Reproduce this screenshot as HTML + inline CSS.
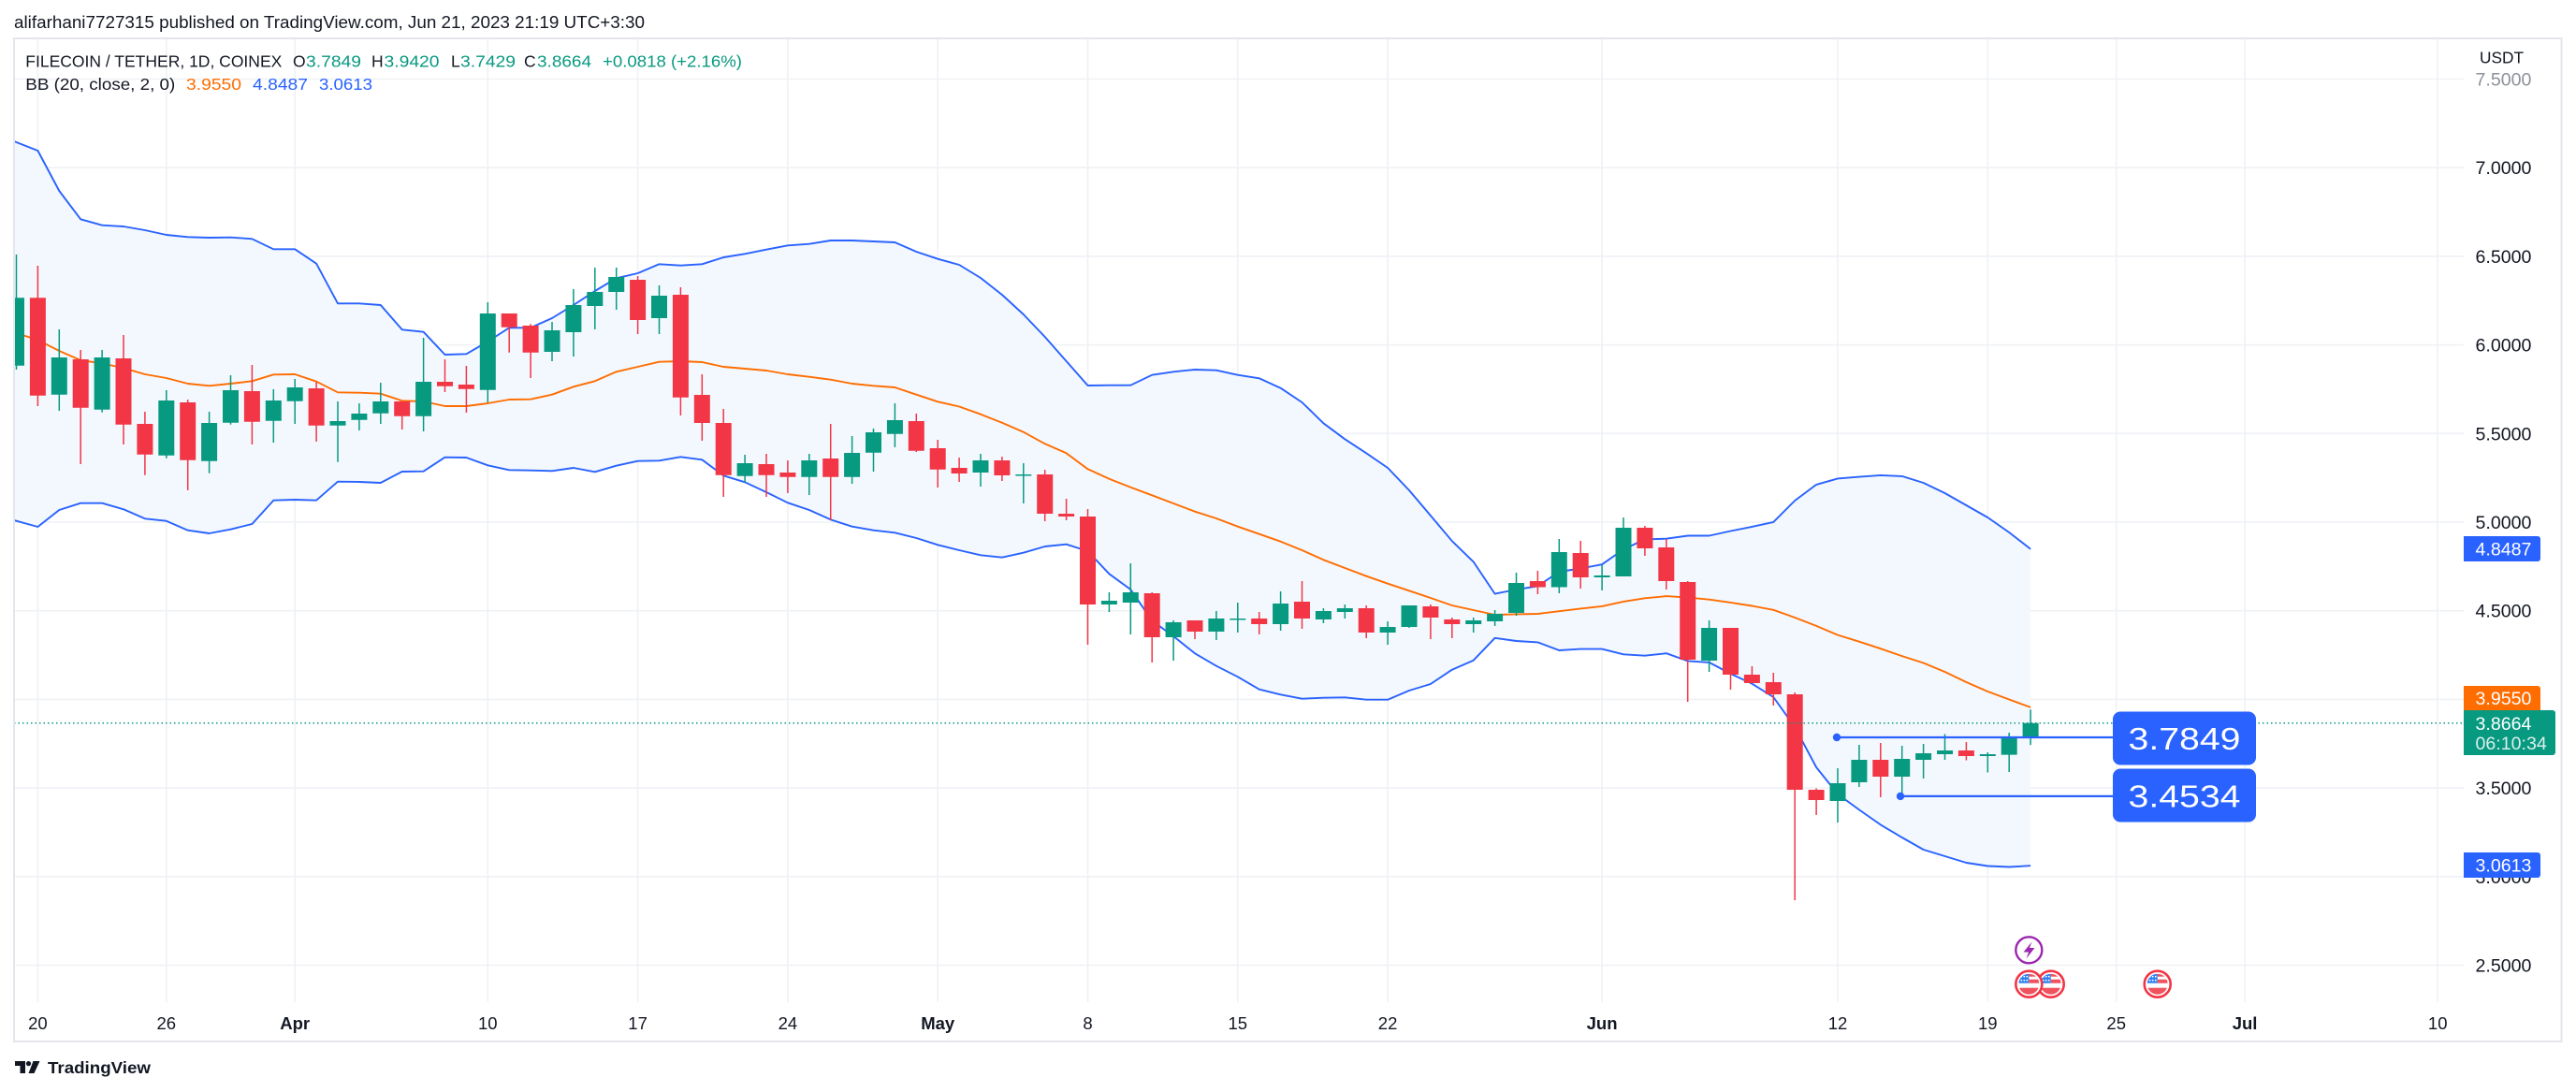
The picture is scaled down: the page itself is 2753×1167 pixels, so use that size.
<!DOCTYPE html>
<html><head><meta charset="utf-8"><style>
html,body{margin:0;padding:0;background:#fff;}
svg{display:block;font-family:"Liberation Sans",Arial,sans-serif;}
</style></head><body>
<svg width="2753" height="1167" viewBox="0 0 2753 1167" xmlns="http://www.w3.org/2000/svg">
<defs>
<clipPath id="pane"><rect x="16" y="42" width="2617" height="1029"/></clipPath>
<clipPath id="fc"><circle cx="0" cy="0" r="11"/></clipPath>
<g id="flag">
<circle cx="0" cy="0" r="14" fill="#fff" stroke="#f23645" stroke-width="2.6"/>
<g clip-path="url(#fc)">
<rect x="-12" y="-12" width="24" height="24" fill="#fff"/>
<rect x="0" y="-12" width="12" height="4" fill="#f0535d"/>
<rect x="0" y="-5" width="12" height="4" fill="#f0535d"/>
<rect x="-12" y="4" width="24" height="9" fill="#f0535d"/>
<rect x="-12" y="-12" width="12" height="11" fill="#2f7ff0"/>
<g fill="#fff"><circle cx="-8" cy="-8" r="0.9"/><circle cx="-5" cy="-8" r="0.9"/><circle cx="-2" cy="-8" r="0.9"/><circle cx="-8" cy="-4" r="0.9"/><circle cx="-5" cy="-4" r="0.9"/><circle cx="-2" cy="-4" r="0.9"/></g>
</g>
</g>
</defs>
<rect width="2753" height="1167" fill="#fff"/>

<!-- grid -->
<g stroke="#eff1f5" stroke-width="1.6">
<path d="M15 84.5H2633M15 179.2H2633M15 273.9H2633M15 368.6H2633M15 463.3H2633M15 558H2633M15 652.7H2633M15 747.4H2633M15 842.1H2633M15 936.8H2633M15 1031.5H2633"/>
<path d="M40.4 41V1071M177.8 41V1071M315.2 41V1071M521.3 41V1071M681.6 41V1071M841.9 41V1071M1002.2 41V1071M1162.5 41V1071M1322.8 41V1071M1483.1 41V1071M1712.1 41V1071M1964 41V1071M2124.3 41V1071M2261.7 41V1071M2399.1 41V1071M2605.2 41V1071"/>
</g>

<g clip-path="url(#pane)">
<!-- BB fill -->
<polygon fill="#f3f8fe" points="15,151 17.5,152 40.4,161 63.3,204 86.2,234.3 109.1,240.7 132,242 154.9,246 177.8,251 200.7,253.3 223.6,254 246.5,253.7 269.4,255.3 292.3,266.3 315.2,266.3 338.1,281.7 361,324.3 383.9,324.3 406.8,326 429.7,352.3 452.6,354.7 475.5,379 498.4,378.3 521.3,365 544.2,350.3 567.1,350.3 590,340 612.9,326 635.8,311 658.7,297.3 681.6,292 704.5,282.3 727.4,283.7 750.3,282.3 773.2,275 796.1,271.3 819,266.7 841.9,262.3 864.8,260.7 887.7,257 910.6,257 933.5,258 956.4,259 979.3,269 1002.2,276.7 1025.1,283 1048,297 1070.9,315 1093.8,336 1116.7,360 1139.6,386 1162.5,412 1185.4,411.7 1208.3,411.7 1231.2,400.7 1254.1,397.3 1277,395 1299.9,395.7 1322.8,400.7 1345.7,404.3 1368.6,414.7 1391.5,430 1414.4,452.3 1437.3,469.3 1460.2,484.3 1483.1,500 1506,524 1528.9,551 1551.8,578.2 1574.7,600.4 1597.6,634.6 1620.5,630 1643.4,626.4 1666.3,611 1689.2,607.5 1712.1,603.2 1735,587.1 1757.9,576.4 1780.8,575.7 1803.7,572.5 1826.6,572.5 1849.5,567.5 1872.4,562.9 1895.3,557.9 1918.2,535 1941.1,517.9 1964,511.4 1986.9,509.6 2009.8,507.9 2032.7,508.9 2055.6,516 2078.5,527 2101.4,540 2124.3,553 2147.2,569 2170.1,586.7 2170.1,925.2 2147.2,926.5 2124.3,925.5 2101.4,922 2078.5,915 2055.6,908 2032.7,895 2009.8,881.4 1986.9,865.4 1964,848.6 1941.1,820 1918.2,777.1 1895.3,745 1872.4,730.7 1849.5,720 1826.6,707.9 1803.7,706.4 1780.8,698.2 1757.9,700.7 1735,699.3 1712.1,693.6 1689.2,693.6 1666.3,695 1643.4,686.4 1620.5,685 1597.6,681.8 1574.7,705.7 1551.8,715.7 1528.9,731 1506,738 1483.1,747.7 1460.2,747.7 1437.3,745.3 1414.4,745.7 1391.5,746.7 1368.6,742.3 1345.7,736.7 1322.8,723.3 1299.9,711.7 1277,698.3 1254.1,680 1231.2,663.3 1208.3,630 1185.4,613.3 1162.5,589 1139.6,581.7 1116.7,584 1093.8,590.7 1070.9,595.7 1048,593.3 1025.1,588 1002.2,582.3 979.3,575 956.4,569.3 933.5,566.7 910.6,562.7 887.7,555.3 864.8,545 841.9,537.3 819,526 796.1,515.3 773.2,508.3 750.3,491.3 727.4,488.3 704.5,492.3 681.6,492.7 658.7,497.7 635.8,504.3 612.9,500 590,503.3 567.1,502.7 544.2,502.3 521.3,497.3 498.4,489 475.5,488.7 452.6,503.7 429.7,504 406.8,516 383.9,515 361,514.7 338.1,534.7 315.2,534 292.3,534.7 269.4,560 246.5,565.7 223.6,570 200.7,566.7 177.8,556.7 154.9,554.3 132,544.3 109.1,537.7 86.2,537.7 63.3,545 40.4,563 17.5,556.7 15,556"/>

<g fill="none" stroke-width="1.9" stroke-linejoin="round">
<polyline stroke="#2962ff" points="15,151 17.5,152 40.4,161 63.3,204 86.2,234.3 109.1,240.7 132,242 154.9,246 177.8,251 200.7,253.3 223.6,254 246.5,253.7 269.4,255.3 292.3,266.3 315.2,266.3 338.1,281.7 361,324.3 383.9,324.3 406.8,326 429.7,352.3 452.6,354.7 475.5,379 498.4,378.3 521.3,365 544.2,350.3 567.1,350.3 590,340 612.9,326 635.8,311 658.7,297.3 681.6,292 704.5,282.3 727.4,283.7 750.3,282.3 773.2,275 796.1,271.3 819,266.7 841.9,262.3 864.8,260.7 887.7,257 910.6,257 933.5,258 956.4,259 979.3,269 1002.2,276.7 1025.1,283 1048,297 1070.9,315 1093.8,336 1116.7,360 1139.6,386 1162.5,412 1185.4,411.7 1208.3,411.7 1231.2,400.7 1254.1,397.3 1277,395 1299.9,395.7 1322.8,400.7 1345.7,404.3 1368.6,414.7 1391.5,430 1414.4,452.3 1437.3,469.3 1460.2,484.3 1483.1,500 1506,524 1528.9,551 1551.8,578.2 1574.7,600.4 1597.6,634.6 1620.5,630 1643.4,626.4 1666.3,611 1689.2,607.5 1712.1,603.2 1735,587.1 1757.9,576.4 1780.8,575.7 1803.7,572.5 1826.6,572.5 1849.5,567.5 1872.4,562.9 1895.3,557.9 1918.2,535 1941.1,517.9 1964,511.4 1986.9,509.6 2009.8,507.9 2032.7,508.9 2055.6,516 2078.5,527 2101.4,540 2124.3,553 2147.2,569 2170.1,586.7"/>
<polyline stroke="#2962ff" points="15,556 17.5,556.7 40.4,563 63.3,545 86.2,537.7 109.1,537.7 132,544.3 154.9,554.3 177.8,556.7 200.7,566.7 223.6,570 246.5,565.7 269.4,560 292.3,534.7 315.2,534 338.1,534.7 361,514.7 383.9,515 406.8,516 429.7,504 452.6,503.7 475.5,488.7 498.4,489 521.3,497.3 544.2,502.3 567.1,502.7 590,503.3 612.9,500 635.8,504.3 658.7,497.7 681.6,492.7 704.5,492.3 727.4,488.3 750.3,491.3 773.2,508.3 796.1,515.3 819,526 841.9,537.3 864.8,545 887.7,555.3 910.6,562.7 933.5,566.7 956.4,569.3 979.3,575 1002.2,582.3 1025.1,588 1048,593.3 1070.9,595.7 1093.8,590.7 1116.7,584 1139.6,581.7 1162.5,589 1185.4,613.3 1208.3,630 1231.2,663.3 1254.1,680 1277,698.3 1299.9,711.7 1322.8,723.3 1345.7,736.7 1368.6,742.3 1391.5,746.7 1414.4,745.7 1437.3,745.3 1460.2,747.7 1483.1,747.7 1506,738 1528.9,731 1551.8,715.7 1574.7,705.7 1597.6,681.8 1620.5,685 1643.4,686.4 1666.3,695 1689.2,693.6 1712.1,693.6 1735,699.3 1757.9,700.7 1780.8,698.2 1803.7,706.4 1826.6,707.9 1849.5,720 1872.4,730.7 1895.3,745 1918.2,777.1 1941.1,820 1964,848.6 1986.9,865.4 2009.8,881.4 2032.7,895 2055.6,908 2078.5,915 2101.4,922 2124.3,925.5 2147.2,926.5 2170.1,925.2"/>
<polyline stroke="#ff6d00" points="15,354 17.5,356 40.4,363.3 63.3,375 86.2,385 109.1,388.3 132,393.3 154.9,400 177.8,404 200.7,410 223.6,412.3 246.5,410 269.4,407.3 292.3,400.3 315.2,400 338.1,407.7 361,419.3 383.9,419.7 406.8,420.7 429.7,428.3 452.6,429 475.5,434 498.4,434 521.3,431 544.2,427 567.1,426.7 590,421.7 612.9,413.3 635.8,407.3 658.7,397.3 681.6,392 704.5,386.7 727.4,386 750.3,387 773.2,392 796.1,394 819,396 841.9,400 864.8,402.7 887.7,405.7 910.6,410 933.5,412.3 956.4,414 979.3,421.7 1002.2,429.3 1025.1,434.5 1048,442.7 1070.9,451.7 1093.8,461.7 1116.7,474.3 1139.6,484.3 1162.5,501.3 1185.4,511.7 1208.3,520.7 1231.2,529.3 1254.1,538 1277,546.7 1299.9,554 1322.8,562.7 1345.7,570.7 1368.6,578.7 1391.5,588 1414.4,598.3 1437.3,607 1460.2,615.7 1483.1,623.7 1506,631.3 1528.9,639 1551.8,647 1574.7,652 1597.6,657 1620.5,656.4 1643.4,656 1666.3,653.2 1689.2,650.4 1712.1,647.9 1735,642.9 1757.9,639.3 1780.8,637.1 1803.7,638.6 1826.6,640.7 1849.5,643.9 1872.4,647.5 1895.3,651.8 1918.2,660 1941.1,668.9 1964,678.6 1986.9,685.7 2009.8,693.2 2032.7,701.1 2055.6,708.5 2078.5,718 2101.4,729 2124.3,739 2147.2,747.5 2170.1,755.9"/>
</g>

<!-- candles green -->
<path stroke="#089981" stroke-width="1.5" fill="none" d="M17.5 272V395M63.3 352V439M109.1 374V440.7M177.8 417V489.7M223.6 440V505.7M246.5 401V453.7M292.3 416V473M315.2 405V453M361 429V493.7M383.9 431V460M406.8 409V453M452.6 361V461M521.3 323V430M590 344V386M612.9 309V381M635.8 286V352M658.7 286V331M704.5 305V357M796.1 486V516M864.8 485V529M910.6 466V517M933.5 458V504M956.4 431V478M1048 485V520M1093.8 495V538M1185.4 633V654M1208.3 602V678M1254.1 663V706M1299.9 653V684M1322.8 644V676M1368.6 632V674M1414.4 650V666M1437.3 646V661M1483.1 664V689M1506 647V671M1574.7 660V676M1597.6 652V669M1620.5 612V658M1666.3 576V634M1712.1 604V631M1735 553V616M1826.6 663V718M1964 821V879M1986.9 796V841M2032.7 797V850M2055.6 795V832M2078.5 784.5V812M2124.3 804V825.5M2147.2 783V825M2170.1 758.4V796.1"/>
<path fill="#089981" d="M9 318.3h17V390.7h-17zM54.8 382h17V421.7h-17zM100.6 382h17V437.7h-17zM169.3 428h17V486.7h-17zM215.1 452h17V492.7h-17zM238 417h17V451.7h-17zM283.8 428h17V449.7h-17zM306.7 414h17V428.7h-17zM352.5 450h17V454.7h-17zM375.4 442h17V448.7h-17zM398.3 429h17V441.7h-17zM444.1 408h17V444.7h-17zM512.8 335h17V416.7h-17zM581.5 353h17V376h-17zM604.4 326h17V355h-17zM627.3 312h17V327h-17zM650.2 296h17V312h-17zM696 316h17V340h-17zM787.6 495h17V508.7h-17zM856.3 492h17V509.7h-17zM902.1 484h17V509.7h-17zM925 462h17V483.7h-17zM947.9 449h17V463.7h-17zM1039.5 492h17V505h-17zM1085.3 507h17V508.5h-17zM1176.9 642h17V646h-17zM1199.8 633h17V644h-17zM1245.6 665h17V681h-17zM1291.4 661h17V675h-17zM1314.3 661h17V662.5h-17zM1360.1 645h17V667h-17zM1405.9 653h17V662h-17zM1428.8 650h17V654h-17zM1474.6 670h17V676h-17zM1497.5 647h17V670h-17zM1566.2 663h17V667h-17zM1589.1 656h17V664h-17zM1612 623h17V655h-17zM1657.8 590h17V627.5h-17zM1703.6 615h17V617h-17zM1726.5 564h17V616h-17zM1818.1 671h17V706h-17zM1955.5 837h17V856h-17zM1978.4 812h17V836h-17zM2024.2 811h17V830h-17zM2047.1 805h17V812h-17zM2070 802h17V806h-17zM2115.8 806h17V808h-17zM2138.7 787.3h17V806.6h-17zM2161.6 772.7h17V788.1h-17z"/>
<!-- candles red -->
<path stroke="#f23645" stroke-width="1.5" fill="none" d="M40.4 284V434M86.2 374V496M132 358V475M154.9 440V507.7M200.7 427V524M269.4 390V475M338.1 408V472M429.7 429V459M475.5 384V419M498.4 391V441M544.2 335V376.7M567.1 346.3V404M681.6 295V357M727.4 307V444M750.3 400V471M773.2 437V531M819 485V531M841.9 492V527M887.7 453V556M979.3 442V483M1002.2 470V521M1025.1 489V515M1070.9 488V514M1116.7 502V557M1139.6 533V556M1162.5 544V689M1231.2 633V708M1277 663V683M1345.7 654V678M1391.5 621V672M1460.2 647V682M1528.9 646V683M1551.8 660V682M1643.4 610V635M1689.2 578V629M1757.9 562V594M1780.8 576V630M1803.7 621V750M1849.5 671V737M1872.4 712V730M1895.3 719V754M1918.2 740V962M1941.1 842.5V871M2009.8 794V852M2101.4 793V812.5"/>
<path fill="#f23645" d="M31.9 318.3h17V422.7h-17zM77.7 384h17V435.7h-17zM123.5 383h17V453.7h-17zM146.4 453h17V485.7h-17zM192.2 430h17V491.7h-17zM260.9 418h17V450.7h-17zM329.6 415h17V454.7h-17zM421.2 429h17V444.7h-17zM467 408h17V412.7h-17zM489.9 411h17V415.7h-17zM535.7 335h17V349.7h-17zM558.6 348h17V376.7h-17zM673.1 299h17V342h-17zM718.9 315h17V424.7h-17zM741.8 422h17V452h-17zM764.7 452h17V507.7h-17zM810.5 496h17V507.7h-17zM833.4 505h17V509.7h-17zM879.2 490h17V509.7h-17zM970.8 450h17V481.7h-17zM993.7 479h17V501.7h-17zM1016.6 500h17V506h-17zM1062.4 492h17V508h-17zM1108.2 507h17V549h-17zM1131.1 549h17V552h-17zM1154 552h17V646h-17zM1222.7 634h17V681h-17zM1268.5 663h17V675h-17zM1337.2 661h17V667h-17zM1383 643h17V661h-17zM1451.7 650h17V676h-17zM1520.4 648h17V660h-17zM1543.3 662h17V667h-17zM1634.9 621h17V627.5h-17zM1680.7 591h17V617h-17zM1749.4 564h17V586h-17zM1772.3 585h17V621h-17zM1795.2 622h17V705h-17zM1841 671h17V721h-17zM1863.9 721h17V730h-17zM1886.8 729h17V742h-17zM1909.7 742h17V844h-17zM1932.6 844h17V855h-17zM2001.3 812h17V830h-17zM2092.9 802h17V808h-17z"/>

<!-- close price dotted line -->
<path d="M15 772.7H2633" stroke="#089981" stroke-width="1.5" stroke-dasharray="1.5 3"/>

<!-- drawings -->
<path d="M1963 788H2260M2031 850.9H2260" stroke="#2962ff" stroke-width="2.2"/>
<circle cx="1963" cy="788" r="4.2" fill="#2962ff"/>
<circle cx="2031" cy="850.9" r="4.2" fill="#2962ff"/>
<rect x="2258" y="760.5" width="153" height="57" rx="8" fill="#2962ff"/>
<rect x="2258" y="821.5" width="153" height="57" rx="8" fill="#2962ff"/>
<text x="2334.5" y="801" font-size="33" fill="#fff" text-anchor="middle" textLength="120" lengthAdjust="spacingAndGlyphs">3.7849</text>
<text x="2334.5" y="862.5" font-size="33" fill="#fff" text-anchor="middle" textLength="120" lengthAdjust="spacingAndGlyphs">3.4534</text>

<!-- events -->
<circle cx="2168.3" cy="1015.3" r="14" fill="#fff" stroke="#9c27b0" stroke-width="2.4"/>
<path d="M2171.5 1006.5L2162.5 1017.5H2168L2165.5 1024.5L2174.5 1013H2169Z" fill="#9c27b0"/>
<use href="#flag" x="2191.7" y="1051.7"/>
<use href="#flag" x="2168.3" y="1051.7"/>
<use href="#flag" x="2305.7" y="1051.7"/>
</g>

<!-- price axis labels -->
<g font-size="19.6" fill="#131722">
<text x="2645.5" y="91.5" fill="#8e919a">7.5000</text>
<text x="2645.5" y="186.2">7.0000</text>
<text x="2645.5" y="280.9">6.5000</text>
<text x="2645.5" y="375.6">6.0000</text>
<text x="2645.5" y="470.3">5.5000</text>
<text x="2645.5" y="565">5.0000</text>
<text x="2645.5" y="659.7">4.5000</text>
<text x="2645.5" y="754.4">4.0000</text>
<text x="2645.5" y="849.1">3.5000</text>
<text x="2645.5" y="943.8">3.0000</text>
<text x="2645.5" y="1038.5">2.5000</text>
</g>
<text x="2650" y="67.5" font-size="17.5" fill="#131722" textLength="47" lengthAdjust="spacingAndGlyphs">USDT</text>

<!-- price axis boxes -->
<path d="M2633 573H2712a3 3 0 0 1 3 3V597a3 3 0 0 1 -3 3H2633Z" fill="#2962ff"/>
<text x="2645.5" y="593.7" font-size="19.6" fill="#fff">4.8487</text>
<path d="M2633 733H2712a3 3 0 0 1 3 3V759H2633Z" fill="#ff6d00"/>
<text x="2645.5" y="753" font-size="19.6" fill="#fff">3.9550</text>
<path d="M2633 759H2728a3 3 0 0 1 3 3V804a3 3 0 0 1 -3 3H2633Z" fill="#089981"/>
<text x="2645.5" y="780" font-size="19.6" fill="#fff">3.8664</text>
<text x="2645.5" y="801" font-size="19.6" fill="#fff" fill-opacity="0.85">06:10:34</text>
<path d="M2633 911H2712a3 3 0 0 1 3 3V935a3 3 0 0 1 -3 3H2633Z" fill="#2962ff"/>
<text x="2645.5" y="931.6" font-size="19.6" fill="#fff">3.0613</text>

<!-- time axis labels -->
<g font-size="18.5" fill="#131722" text-anchor="middle">
<text x="40.4" y="1100">20</text>
<text x="177.8" y="1100">26</text>
<text x="315.2" y="1100" font-weight="bold">Apr</text>
<text x="521.3" y="1100">10</text>
<text x="681.6" y="1100">17</text>
<text x="841.9" y="1100">24</text>
<text x="1002.2" y="1100" font-weight="bold">May</text>
<text x="1162.5" y="1100">8</text>
<text x="1322.8" y="1100">15</text>
<text x="1483.1" y="1100">22</text>
<text x="1712.1" y="1100" font-weight="bold">Jun</text>
<text x="1964" y="1100">12</text>
<text x="2124.3" y="1100">19</text>
<text x="2261.7" y="1100">25</text>
<text x="2399.1" y="1100" font-weight="bold">Jul</text>
<text x="2605.2" y="1100">10</text>
</g>

<!-- legend -->
<text x="15" y="30" font-size="18.8" fill="#131722" textLength="674" lengthAdjust="spacingAndGlyphs">alifarhani7727315 published on TradingView.com, Jun 21, 2023 21:19 UTC+3:30</text>
<g font-size="17.5">
<text x="27.3" y="71.7" fill="#131722" textLength="274" lengthAdjust="spacingAndGlyphs">FILECOIN / TETHER, 1D, COINEX</text>
<text x="313" y="71.7" fill="#131722">O</text>
<text x="327" y="71.7" fill="#089981" textLength="59" lengthAdjust="spacingAndGlyphs">3.7849</text>
<text x="397" y="71.7" fill="#131722">H</text>
<text x="410.5" y="71.7" fill="#089981" textLength="59" lengthAdjust="spacingAndGlyphs">3.9420</text>
<text x="482" y="71.7" fill="#131722">L</text>
<text x="492" y="71.7" fill="#089981" textLength="59" lengthAdjust="spacingAndGlyphs">3.7429</text>
<text x="560" y="71.7" fill="#131722">C</text>
<text x="574" y="71.7" fill="#089981" textLength="58" lengthAdjust="spacingAndGlyphs">3.8664</text>
<text x="644" y="71.7" fill="#089981" textLength="149" lengthAdjust="spacingAndGlyphs">+0.0818 (+2.16%)</text>
<text x="27.3" y="96" fill="#131722" textLength="160" lengthAdjust="spacingAndGlyphs">BB (20, close, 2, 0)</text>
<text x="199" y="96" fill="#ff6d00" textLength="59" lengthAdjust="spacingAndGlyphs">3.9550</text>
<text x="270" y="96" fill="#2962ff" textLength="59" lengthAdjust="spacingAndGlyphs">4.8487</text>
<text x="341" y="96" fill="#2962ff" textLength="57" lengthAdjust="spacingAndGlyphs">3.0613</text>
</g>

<!-- frame -->
<rect x="15" y="41" width="2722.5" height="1072" fill="none" stroke="#e4e6ec" stroke-width="2"/>

<!-- TradingView logo -->
<path d="M16 1134H27V1147H21.5V1139H16Z" fill="#131722"/>
<circle cx="30.5" cy="1136.6" r="2.6" fill="#131722"/>
<path d="M35.5 1134H42.5L36.5 1147H30.5Z" fill="#131722"/>
<text x="51" y="1147" font-size="17.5" font-weight="bold" fill="#131722" textLength="110" lengthAdjust="spacingAndGlyphs">TradingView</text>
</svg>
</body></html>
